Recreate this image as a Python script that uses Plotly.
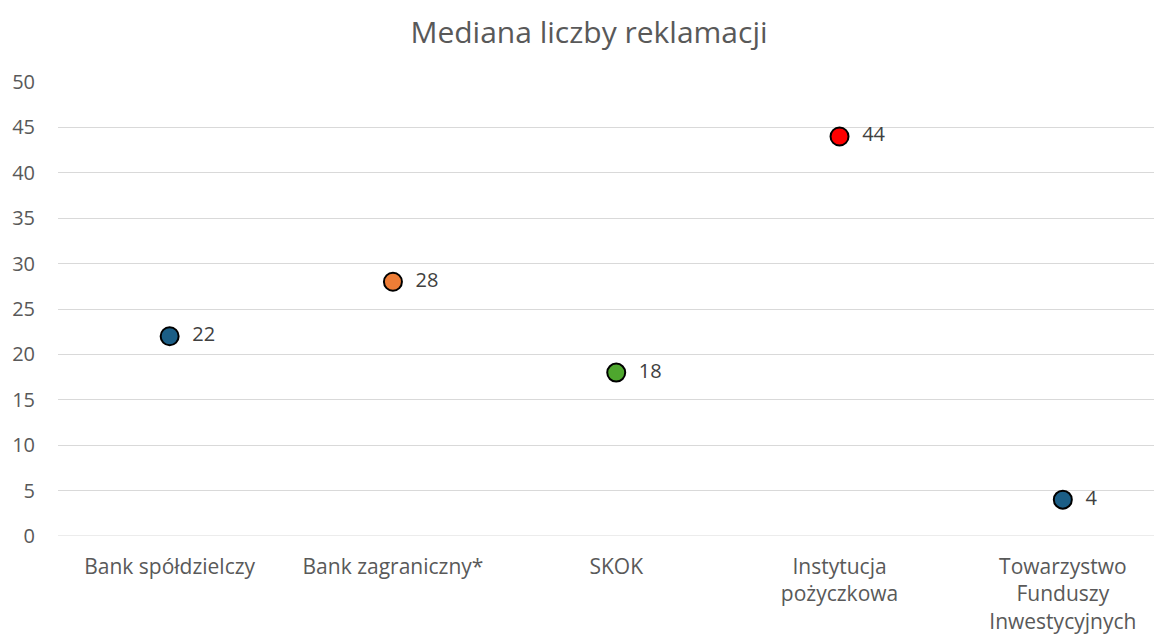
import plotly.graph_objects as go

categories = ["Bank spółdzielczy", "Bank zagraniczny*", "SKOK", "Instytucja<br>pożyczkowa", "Towarzystwo<br>Funduszy<br>Inwestycyjnych"]
values = [22, 28, 18, 44, 4]
colors = ["#1B5E86", "#EE7D36", "#4EA72E", "#FF0000", "#1B5E86"]
y_ticks = [0, 5, 10, 15, 20, 25, 30, 35, 40, 45, 50]

FONT = "Open Sans, Noto Sans, sans-serif"

fig = go.Figure()
fig.add_trace(go.Scatter(
    x=list(range(len(categories))), y=values,
    mode="markers+text",
    marker=dict(size=18, color=colors, line=dict(color="#000000", width=2)),
    text=["  " + str(v) for v in values],
    textposition="middle right",
    textfont=dict(size=20, color="#404040", family=FONT),
    cliponaxis=False,
    showlegend=False,
))

fig.update_layout(
    width=1162, height=635,
    margin=dict(l=50, r=0, t=74, b=107),
    paper_bgcolor="white", plot_bgcolor="white",
    title=dict(text="Mediana liczby reklamacji", x=0.5, xanchor="center", y=0.961, yanchor="middle",
               font=dict(size=30, color="#595959", family=FONT)),
    font=dict(family=FONT, color="#595959", size=20),
)
fig.update_xaxes(
    tickmode="array", tickvals=list(range(len(categories))), ticktext=categories,
    range=[-0.5, 4.48], showgrid=False, zeroline=False, showline=False,
    tickfont=dict(size=21, color="#595959"), ticks="", automargin=False,
    ticklabelstandoff=16,
)
fig.update_yaxes(
    range=[0, 50], tickvals=y_ticks, showgrid=True, gridcolor="#D9D9D9", gridwidth=1,
    zeroline=False, showline=False, ticks="", ticklabelstandoff=22, automargin=False,
    tickfont=dict(size=20, color="#595959"),
)
fig.add_shape(type="line", xref="paper", yref="y", x0=0, x1=1, y0=0, y1=0,
              line=dict(color="#D9D9D9", width=1), layer="below")

fig.write_html("out.html")
